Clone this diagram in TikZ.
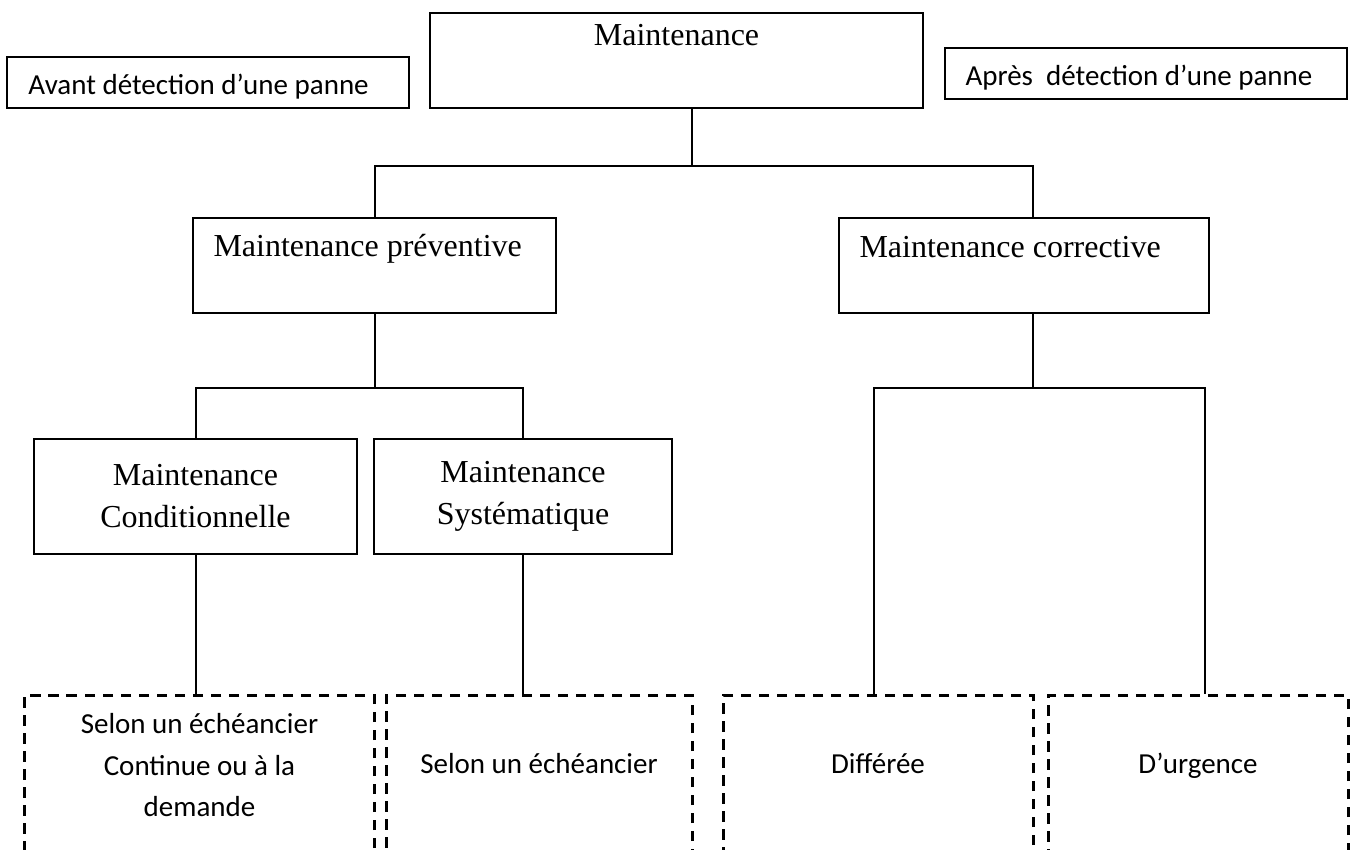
\documentclass[tikz,border=0pt]{standalone}
\usepackage{fontspec}
\setmainfont{Liberation Serif}
\newfontfamily\calibri{Carlito}
\usetikzlibrary{positioning}

\begin{document}
\begin{tikzpicture}[x=0.4pt, y=-0.4pt,
    box/.style={draw, rectangle, line width=0.8pt, inner ysep=0pt,
        font=\fontsize{12.8pt}{16.8pt}\selectfont},
    boxtext/.style={anchor=base west, inner sep=0pt, font=\fontsize{12.8pt}{16.8pt}\selectfont},
    tagbox/.style={draw, rectangle, line width=0.8pt, inner sep=0pt,
        minimum width=160.8pt, minimum height=20.4pt},
    tagtext/.style={anchor=base west, inner sep=0pt, font=\calibri\fontsize{11.6pt}{14pt}\selectfont},
    dbox/.style={draw, rectangle, line width=1.2pt, dash pattern=on 4.2pt off 3pt,
        inner sep=0pt, minimum height=80pt},
    dtext/.style={align=center, font=\calibri\fontsize{11.6pt}{16.6pt}\selectfont},
    link/.style={line width=0.8pt}]

    \clip (0,0) rectangle (1350,849);

    % top row
    \node[box, minimum width=197.2pt, text height=12.8pt, text depth=25.2pt] (root) at (676.5,60.5) {Maintenance};
    \node[tagbox] (avant) at (208,82.5) {};
    \node[tagtext] (avantT) at ([xshift=8.8pt, yshift=-15.2pt]avant.north west) {Avant détection d’une panne};
    \node[tagbox] (apres) at (1146,73.5) {};
    \node[tagtext] (apresT) at ([xshift=8.4pt, yshift=-15.2pt]apres.north west) {Après\ \ détection d’une panne};

    % second row
    \node[box, minimum width=145.2pt, minimum height=38pt] (prev) at (374.5,265.5) {};
    \node[boxtext] (prevT) at ([xshift=8.4pt, yshift=-15.6pt]prev.north west) {Maintenance préventive};
    \node[box, minimum width=148pt, minimum height=38pt] (corr) at (1024,265.5) {};
    \node[boxtext] (corrT) at ([xshift=8.4pt, yshift=-16pt]corr.north west) {Maintenance corrective};

    % third row
    \node[box, align=center, minimum width=129.2pt, minimum height=46pt] (cond) at (195.5,496.5) {Maintenance\\Conditionnelle};
    \node[box, align=center, minimum width=119.2pt, minimum height=46pt] (syst) at (523,496.5) {Maintenance\\Systématique};

    % dashed boxes (cut by the page bottom)
    \node[dbox, minimum width=139.6pt] (d1) at (199.5,795) {};
    \node[dbox, minimum width=122.4pt] (d2) at (539,795) {};
    \node[dbox, minimum width=124pt] (d3) at (878,795) {};
    \node[dbox, minimum width=120pt] (d4) at (1198,795) {};

    \node[dtext] (t1) at ([yshift=-28.8pt]d1.north) {Selon un échéancier\\Continue ou à la\\demande};
    \node[dtext, anchor=base] (t2) at ([yshift=-32pt]d2.north) {Selon un échéancier};
    \node[dtext, anchor=base] (t3) at ([yshift=-32pt]d3.north) {Différée};
    \node[dtext, anchor=base] (t4) at ([yshift=-32pt]d4.north) {D’urgence};

    % connectors
    \coordinate (rootTap) at (692,166);
    \coordinate (corrTap) at (1033,166);
    \coordinate (prevBus) at (0,388);
    \coordinate (diffTap) at (874,388);
    \coordinate (urgTap) at (1205,388);

    \draw[link] (root.south -| rootTap) -- (rootTap);
    \draw[link] (prev.north) |- (corrTap) -- (corr.north -| corrTap);

    \draw[link] (prev.south) -- (prev.south |- prevBus);
    \draw[link] (cond.north) -- (cond.north |- prevBus) -- (syst.north |- prevBus) -- (syst.north);
    \draw[link] (cond.south) -- (cond.south |- d1.north);
    \draw[link] (syst.south) -- (syst.south |- d2.north);

    \draw[link] (corr.south -| corrTap) -- (corrTap |- diffTap);
    \draw[link] (d3.north -| diffTap) -- (diffTap) -- (urgTap) -- (d4.north -| urgTap);
\end{tikzpicture}
\end{document}
